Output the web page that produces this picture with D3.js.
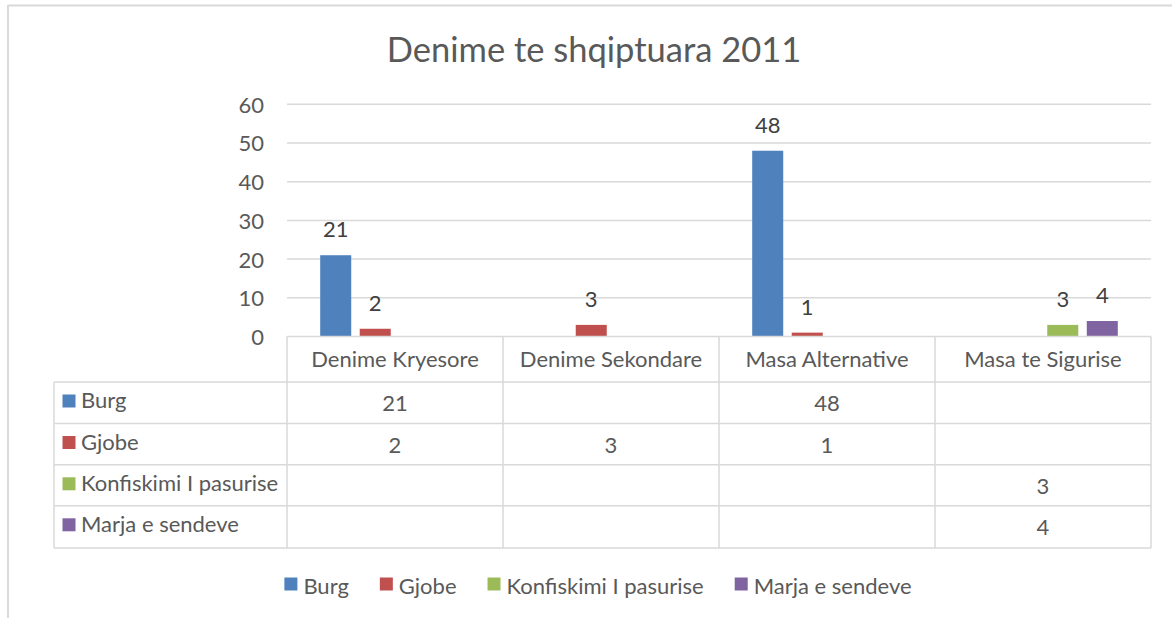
<!DOCTYPE html>
<html>
<head>
<meta charset="utf-8">
<script src="https://cdn.jsdelivr.net/npm/d3@7"></script>
<style>
  body { margin: 0; background: #fff; }
  svg { font-family: Lato, "Open Sans", sans-serif; }
</style>
</head>
<body>
<svg id="chart" width="1172" height="618"></svg>
<script>
// data
var title = "Denime te shqiptuara 2011";
var categories = ["Denime Kryesore", "Denime Sekondare", "Masa Alternative", "Masa te Sigurise"];
var seriesNames = ["Burg", "Gjobe", "Konfiskimi I pasurise", "Marja e sendeve"];
var burg = [21, null, 48, null];
var gjobe = [2, 3, 1, null];
var konfiskimi = [null, null, null, 3];
var marja = [null, null, null, 4];
var yTicks = [0, 10, 20, 30, 40, 50, 60];
var colors = ["#4f81bd", "#c0504d", "#9bbb59", "#8064a2"];

var seriesValues = [burg, gjobe, konfiskimi, marja];

var svg = d3.select("#chart");
var width = 1172;

var plotLeft = 287, plotRight = 1151;
var plotTop = 104.3, plotBottom = 336.5;
var tableLeft = 54;
var rowTops = [382, 423.5, 464.8, 505.8, 548];
var gridColor = "#d9d9d9";
var textColor = "#595959";
var fontSize = "22px";

// outer frame (only top and left visible)
svg.append("line")
    .attr("x1", 8).attr("x2", width).attr("y1", 5.5).attr("y2", 5.5)
    .attr("stroke", gridColor).attr("stroke-width", 2);
svg.append("line")
    .attr("x1", 8).attr("x2", 8).attr("y1", 5).attr("y2", 618)
    .attr("stroke", gridColor).attr("stroke-width", 2);

// title
svg.append("text")
    .attr("x", 594)
    .attr("y", 61.5)
    .attr("text-anchor", "middle")
    .attr("font-size", "34.5px")
    .attr("fill", textColor)
    .text(title);

//Scale
var x0 = d3.scaleBand()
    .domain(categories)
    .range([plotLeft, plotRight])
    .padding(0);

var x1 = d3.scaleBand()
    .domain(seriesNames)
    .range([0, x0.bandwidth()])
    .paddingInner(0.215)
    .paddingOuter(0.84);

var y = d3.scaleLinear()
    .domain([0, 60])
    .range([plotBottom, plotTop]);

// gridlines
svg.append("g")
    .selectAll("line")
    .data(yTicks.filter(function(d){ return d > 0; }))
    .enter()
    .append("line")
    .attr("x1", plotLeft).attr("x2", plotRight)
    .attr("y1", function(d){ return y(d); })
    .attr("y2", function(d){ return y(d); })
    .attr("stroke", gridColor)
    .attr("stroke-width", 1.5);

//Axis
var yAxis = d3.axisLeft(y)
    .tickValues(yTicks)
    .tickSize(0)
    .tickPadding(0);

var yAxisG = svg.append("g")
    .attr("transform", "translate(264,0)")
    .call(yAxis);
yAxisG.select(".domain").remove();
yAxisG.selectAll("text")
    .attr("font-family", "Lato, 'Open Sans', sans-serif")
    .attr("font-size", fontSize)
    .attr("fill", textColor)
    .attr("dy", "0.36em");

// bars
var barData = [];
seriesValues.forEach(function(vals, si){
    vals.forEach(function(v, ci){
        if (v !== null) {
            barData.push({ series: seriesNames[si], category: categories[ci], value: v, color: colors[si] });
        }
    });
});

svg.append("g")
    .selectAll(".bar")
    .data(barData)
    .enter()
    .append("rect")
    .attr("class", "bar")
    .attr("x", function(d){ return x0(d.category) + x1(d.series); })
    .attr("y", function(d){ return y(d.value); })
    .attr("width", x1.bandwidth())
    .attr("height", function(d){ return y(0) - y(d.value); })
    .attr("fill", function(d){ return d.color; });

// data labels
svg.append("g")
    .selectAll(".label")
    .data(barData)
    .enter()
    .append("text")
    .attr("class", "label")
    .attr("x", function(d){ return x0(d.category) + x1(d.series) + x1.bandwidth() / 2; })
    .attr("y", function(d){ return y(d.value) - 18; })
    .attr("text-anchor", "middle")
    .attr("font-size", fontSize)
    .attr("fill", "#404040")
    .text(function(d){ return d.value; });

// data table
var table = svg.append("g");

// horizontal lines
table.append("line")
    .attr("x1", plotLeft).attr("x2", plotRight)
    .attr("y1", plotBottom).attr("y2", plotBottom)
    .attr("stroke", gridColor).attr("stroke-width", 1.5);
table.selectAll(".hline")
    .data(rowTops)
    .enter()
    .append("line")
    .attr("class", "hline")
    .attr("x1", tableLeft).attr("x2", plotRight)
    .attr("y1", function(d){ return d; })
    .attr("y2", function(d){ return d; })
    .attr("stroke", gridColor).attr("stroke-width", 1.5);

// vertical lines
var colEdges = categories.map(function(c){ return x0(c); }).concat([plotRight]);
table.selectAll(".vline")
    .data(colEdges)
    .enter()
    .append("line")
    .attr("class", "vline")
    .attr("x1", function(d){ return d; })
    .attr("x2", function(d){ return d; })
    .attr("y1", plotBottom)
    .attr("y2", rowTops[rowTops.length - 1])
    .attr("stroke", gridColor).attr("stroke-width", 1.5);
table.append("line")
    .attr("x1", tableLeft).attr("x2", tableLeft)
    .attr("y1", rowTops[0]).attr("y2", rowTops[rowTops.length - 1])
    .attr("stroke", gridColor).attr("stroke-width", 1.5);

// header
table.selectAll(".head")
    .data(categories)
    .enter()
    .append("text")
    .attr("class", "head")
    .attr("x", function(d){ return x0(d) + x0.bandwidth() / 2; })
    .attr("y", 366.5)
    .attr("text-anchor", "middle")
    .attr("font-size", fontSize)
    .attr("fill", textColor)
    .text(function(d){ return d; });

// row labels with keys
seriesNames.forEach(function(name, si){
    var top = rowTops[si];
    table.append("rect")
        .attr("x", 62.5)
        .attr("y", top + 12.5)
        .attr("width", 13)
        .attr("height", 13)
        .attr("fill", colors[si]);
    table.append("text")
        .attr("x", 81)
        .attr("y", top + 26)
        .attr("font-size", fontSize)
        .attr("fill", textColor)
        .text(name);

    seriesValues[si].forEach(function(v, ci){
        if (v === null) return;
        table.append("text")
            .attr("x", x0(categories[ci]) + x0.bandwidth() / 2)
            .attr("y", top + 29)
            .attr("text-anchor", "middle")
            .attr("font-size", fontSize)
            .attr("fill", textColor)
            .text(v);
    });
});

// legend
var legend = svg.append("g");
var items = legend.selectAll(".item")
    .data(seriesNames)
    .enter()
    .append("g")
    .attr("class", "item");

items.append("rect")
    .attr("x", 0).attr("y", -16)
    .attr("width", 13).attr("height", 13)
    .attr("fill", function(d, i){ return colors[i]; });
items.append("text")
    .attr("x", 19)
    .attr("y", 0)
    .attr("font-size", fontSize)
    .attr("fill", textColor)
    .text(function(d){ return d; });

var xpos = 0;
var offsets = [];
items.each(function(d, i){
    var w = 19 + d3.select(this).select("text").node().getComputedTextLength();
    offsets.push(xpos);
    xpos += w + 31;
});
var total = xpos - 31;
var legendStart = 598 - total / 2;
items.attr("transform", function(d, i){ return "translate(" + (legendStart + offsets[i]) + ",593.5)"; });
</script>
</body>
</html>
